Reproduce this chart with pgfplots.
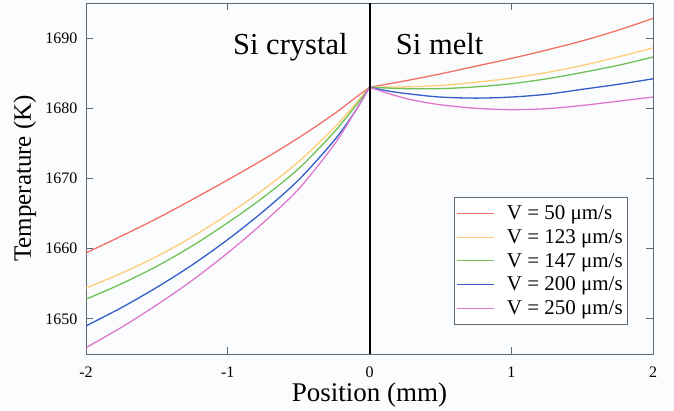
\documentclass[border=0pt]{standalone}
\usepackage{fontspec}
\setmainfont{Liberation Serif}
\newfontfamily\tnr{Liberation Serif}
\usepackage{pgfplots}
\pgfplotsset{compat=1.18}
\definecolor{cred}{RGB}{242,112,102}
\definecolor{cyel}{RGB}{255,205,120}
\definecolor{cgrn}{RGB}{110,195,85}
\definecolor{cblu}{RGB}{50,95,200}
\definecolor{cpnk}{RGB}{222,120,205}
\definecolor{axgray}{RGB}{95,105,115}
\definecolor{bgc}{RGB}{251,252,254}
\begin{document}
\begin{tikzpicture}
\fill[bgc] (-86pt,-57pt) rectangle (588pt,354pt);
\begin{axis}[
  at={(0,0)}, anchor=south west,
  scale only axis, width=567pt, height=351pt,
  xmin=-2, xmax=2, ymin=1645, ymax=1695,
  xtick={-2,-1,0,1,2}, xticklabels={-2,-1,0,1,2},
  ytick={1650,1660,1670,1680,1690},
  tick align=inside, major tick length=7pt,
  axis line style={draw=axgray, line width=0.8pt},
  tick style={draw=axgray, line width=0.8pt},
  ticklabel style={font=\tnr\fontsize{16}{19}\selectfont},
  xticklabel style={inner sep=0.5pt, yshift=-12pt},
  yticklabel style={xshift=-5pt},
  /pgf/number format/assume math mode=true,
  /pgf/number format/set thousands separator={},
  xlabel={Position (mm)}, ylabel={Temperature (K)},
  xlabel style={font=\tnr\fontsize{27}{30}\selectfont, at={(axis description cs:0.5,-0.135)}, anchor=base, inner sep=0pt},
  ylabel style={font=\tnr\fontsize{25}{28}\selectfont, at={(axis description cs:-0.1076,0.5)}, anchor=center, rotate=0},
  legend style={at={(0.956,0.447)}, anchor=north east, draw=axgray, line width=0.6pt,
    font=\tnr\fontsize{21}{24}\selectfont, row sep=0pt, inner xsep=3pt, inner ysep=4pt,
    nodes={inner xsep=2pt, inner ysep=4.2pt},
    /tikz/every odd column/.append style={column sep=10pt}},
  legend cell align=left,
  legend image code/.code={\draw[#1, line width=1pt] (0pt,0pt) -- (37pt,0pt);},
  every axis plot/.append style={line width=1.3pt, smooth},
]
\addplot[cred] coordinates {(-2,1659.4) (-1.75,1661.8) (-1.5,1664.3) (-1.25,1667.0) (-1,1669.8) (-0.75,1672.7) (-0.5,1675.8) (-0.25,1679.2) (-0.1,1681.5) (0,1683)};
\addlegendentry{V = 50 μm/s}
\addplot[cyel] coordinates {(-2,1654.4) (-1.75,1656.5) (-1.5,1658.9) (-1.25,1661.7) (-1,1664.9) (-0.75,1668.4) (-0.5,1672.4) (-0.25,1677.2) (-0.1,1680.6) (0,1683)};
\addlegendentry{V = 123 μm/s}
\addplot[cgrn] coordinates {(-2,1652.8) (-1.75,1655.0) (-1.5,1657.5) (-1.25,1660.4) (-1,1663.7) (-0.75,1667.3) (-0.5,1671.4) (-0.25,1676.6) (-0.1,1680.3) (0,1683)};
\addlegendentry{V = 147 μm/s}
\addplot[cblu] coordinates {(-2,1649.0) (-1.75,1651.6) (-1.5,1654.5) (-1.25,1657.7) (-1,1661.3) (-0.75,1665.3) (-0.5,1669.8) (-0.25,1675.4) (-0.1,1679.6) (0,1683)};
\addlegendentry{V = 200 μm/s}
\addplot[cpnk] coordinates {(-2,1645.9) (-1.75,1648.8) (-1.5,1652.0) (-1.25,1655.5) (-1,1659.4) (-0.75,1663.7) (-0.5,1668.5) (-0.25,1674.8) (-0.1,1679.6) (0,1683)};
\addlegendentry{V = 250 μm/s}
\addplot[cred, forget plot] coordinates {(0,1683) (0.25,1683.9) (0.5,1684.9) (0.75,1686.0) (1,1687.1) (1.25,1688.3) (1.5,1689.6) (1.75,1691.1) (2,1692.8)};
\addplot[cyel, forget plot] coordinates {(0,1683) (0.25,1683.05) (0.5,1683.25) (0.75,1683.7) (1,1684.3) (1.25,1685.1) (1.5,1686.1) (1.75,1687.3) (2,1688.6)};
\addplot[cgrn, forget plot] coordinates {(0,1683) (0.25,1682.8) (0.5,1682.8) (0.75,1683.05) (1,1683.5) (1.25,1684.2) (1.5,1685.1) (1.75,1686.1) (2,1687.3)};
\addplot[cblu, forget plot] coordinates {(0,1683) (0.15,1682.4) (0.3,1682.0) (0.5,1681.6) (0.75,1681.45) (1,1681.6) (1.25,1682.0) (1.5,1682.7) (1.75,1683.4) (2,1684.2)};
\addplot[cpnk, forget plot] coordinates {(0,1683) (0.15,1682.0) (0.3,1681.2) (0.5,1680.5) (0.75,1680.0) (1,1679.8) (1.25,1679.95) (1.5,1680.4) (1.75,1681.0) (2,1681.6)};
\draw[black, line width=2pt] (axis cs:0,1645) -- (axis cs:0,1695);
\node[anchor=base east, font=\tnr\fontsize{30.5}{34}\selectfont] at (axis cs:-0.13,1687.6) {Si crystal};
\node[anchor=base west, font=\tnr\fontsize{30.5}{34}\selectfont] at (axis cs:0.162,1687.6) {Si melt};
\end{axis}
\pgfresetboundingbox
\path (-86pt,-57pt) rectangle (588pt,354pt);
\end{tikzpicture}
\end{document}
